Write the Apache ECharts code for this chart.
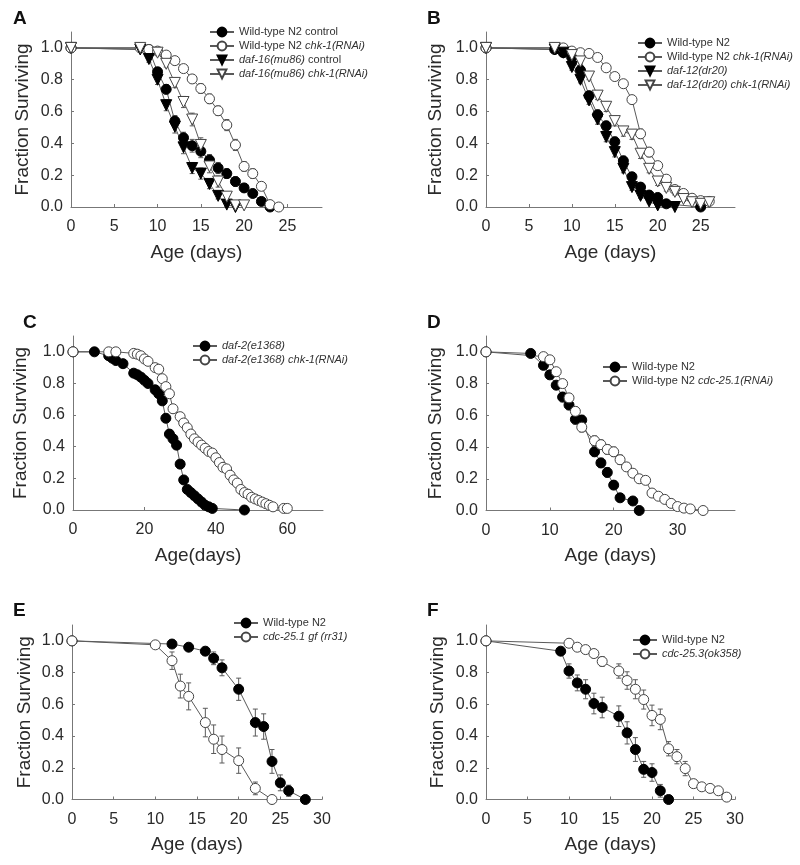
<!DOCTYPE html>
<html><head><meta charset="utf-8">
<script src="https://cdn.jsdelivr.net/npm/echarts@6/dist/echarts.min.js"></script>
<style>html,body{margin:0;padding:0;background:#fff}#c{width:800px;height:865px}</style>
</head><body><div id="c"></div>
<script>
// ---------- Panel A ----------
const aWtCtrlDays = [0,9,10,11,12,13,14,15,16,17,18,19,20,21,22,23];
const aWtCtrlSurv = [1.0,0.99,0.85,0.74,0.54,0.435,0.385,0.35,0.295,0.245,0.21,0.16,0.12,0.085,0.035,0.0];
const aWtCtrlErr  = [0,0.01,0.025,0.03,0.035,0.035,0.04,0.04,0.035,0.035,0.03,0.03,0.025,0.02,0.015,0];
const aWtChkDays = [0,8,9,10,11,12,13,14,15,16,17,18,19,20,21,22,23,24];
const aWtChkSurv = [1.0,1.0,0.99,0.98,0.955,0.92,0.87,0.805,0.745,0.68,0.605,0.515,0.39,0.255,0.21,0.13,0.015,0.0];
const aWtChkErr  = [0,0,0.005,0.01,0.015,0.02,0.02,0.025,0.03,0.03,0.03,0.035,0.035,0.03,0.03,0.025,0.01,0];
const aDafCtrlDays = [0,8,9,10,11,12,13,14,15,16,17,18,19];
const aDafCtrlSurv = [1.0,0.99,0.93,0.80,0.64,0.505,0.375,0.245,0.21,0.145,0.07,0.015,0.0];
const aDafCtrlErr  = [0,0.01,0.02,0.03,0.035,0.04,0.04,0.035,0.035,0.03,0.02,0.01,0];
const aDafChkDays = [0,8,10,11,12,13,14,15,16,17,18,19,20];
const aDafChkSurv = [1.0,1.0,0.97,0.90,0.78,0.66,0.55,0.39,0.255,0.16,0.065,0.01,0.01];
const aDafChkErr  = [0,0,0.01,0.02,0.03,0.035,0.04,0.045,0.04,0.035,0.025,0.01,0.01];
// ---------- Panel B ----------
const bWtDays = [0,8,9,10,11,12,13,14,15,16,17,18,19,20,21,25];
const bWtSurv = [1.0,0.99,0.97,0.94,0.86,0.70,0.58,0.51,0.41,0.29,0.19,0.125,0.075,0.06,0.02,0.0];
const bWtErr  = [0,0.005,0.01,0.015,0.02,0.025,0.03,0.03,0.03,0.03,0.025,0.02,0.015,0.015,0.01,0];
const bWtChkDays = [0,9,10,11,12,13,14,15,16,17,18,19,20,21,22,23,24,25,26];
const bWtChkSurv = [1.0,1.0,0.98,0.97,0.965,0.94,0.875,0.82,0.775,0.675,0.46,0.345,0.26,0.175,0.11,0.085,0.055,0.04,0.035];
const bWtChkErr  = [0,0,0.005,0.01,0.01,0.015,0.02,0.02,0.025,0.025,0.03,0.03,0.025,0.025,0.02,0.015,0.01,0.01,0.01];
const bDafDays = [0,8,9,10,11,12,13,14,15,16,17,18,19,20,22];
const bDafSurv = [1.0,0.99,0.97,0.88,0.80,0.67,0.55,0.44,0.345,0.24,0.125,0.07,0.035,0.01,0.0];
const bDafErr  = [0,0.005,0.01,0.02,0.02,0.025,0.03,0.03,0.03,0.025,0.02,0.015,0.01,0.005,0];
const bDafChkDays = [0,8,10,11,12,13,14,15,16,17,18,19,20,21,22,23,24,25,26];
const bDafChkSurv = [1.0,1.0,0.955,0.915,0.82,0.70,0.63,0.54,0.475,0.455,0.335,0.24,0.16,0.12,0.095,0.05,0.03,0.02,0.03];
const bDafChkErr  = [0,0,0.01,0.015,0.02,0.025,0.03,0.03,0.03,0.03,0.03,0.025,0.025,0.02,0.02,0.015,0.01,0.01,0.01];
// ---------- Panel C ----------
const cDafDays = [0,6,10,11,12,14,17,18,19,20,21,23,24,25,26,27,28,29,30,31,32,33,34,35,36,37,38,39,48];
const cDafSurv = [1.0,1.0,0.975,0.96,0.945,0.925,0.865,0.855,0.84,0.82,0.80,0.76,0.735,0.69,0.58,0.48,0.45,0.41,0.29,0.19,0.13,0.11,0.09,0.07,0.05,0.03,0.02,0.01,0.0];
const cDafErr  = [0,0,0.01,0.015,0.015,0.015,0.02,0.02,0.02,0.02,0.02,0.02,0.025,0.025,0.025,0.025,0.025,0.025,0.025,0.02,0.02,0.02,0.015,0.015,0.01,0.01,0.01,0.01,0];
const cDafChkDays = [0,10,12,17,18,19,20,21,23,24,25,26,27,28,30,31,32,33,34,35,36,37,38,39,40,41,42,43,44,45,46,47,48,49,50,51,52,53,54,55,56,59,60];
const cDafChkSurv = [1.0,1.0,1.0,0.99,0.985,0.975,0.955,0.94,0.90,0.89,0.83,0.78,0.735,0.64,0.59,0.55,0.52,0.48,0.45,0.43,0.41,0.39,0.37,0.36,0.33,0.30,0.27,0.26,0.22,0.19,0.17,0.13,0.11,0.10,0.08,0.07,0.06,0.05,0.04,0.03,0.02,0.01,0.01];
const cDafChkErr  = [0,0,0,0.005,0.01,0.01,0.015,0.015,0.02,0.02,0.02,0.025,0.025,0.025,0.025,0.025,0.025,0.025,0.025,0.025,0.025,0.025,0.025,0.025,0.025,0.025,0.025,0.02,0.02,0.02,0.02,0.02,0.015,0.015,0.015,0.015,0.01,0.01,0.01,0.01,0.01,0,0];
// ---------- Panel D ----------
const dWtDays = [0,7,9,10,11,12,13,14,15,17,18,19,20,21,23,24];
const dWtSurv = [1.0,0.99,0.915,0.855,0.79,0.715,0.665,0.575,0.57,0.37,0.30,0.24,0.16,0.08,0.06,0.0];
const dWtErr  = [0,0.01,0.02,0.025,0.025,0.03,0.03,0.03,0.03,0.03,0.03,0.03,0.025,0.02,0.02,0];
const dCdcDays = [0,9,10,11,12,13,14,15,17,18,19,20,21,22,23,24,25,26,27,28,29,30,31,32,34];
const dCdcSurv = [1.0,0.97,0.95,0.875,0.80,0.71,0.625,0.525,0.44,0.415,0.385,0.37,0.32,0.275,0.235,0.20,0.19,0.11,0.09,0.07,0.045,0.025,0.015,0.01,0.0];
const dCdcErr  = [0,0.015,0.015,0.02,0.025,0.025,0.03,0.03,0.03,0.03,0.03,0.03,0.03,0.025,0.025,0.025,0.025,0.02,0.02,0.015,0.015,0.01,0.01,0.005,0];
// ---------- Panel E ----------
const eWtDays = [0,12,14,16,17,18,20,22,23,24,25,26,28];
const eWtSurv = [1.0,0.98,0.96,0.935,0.89,0.83,0.695,0.485,0.46,0.24,0.105,0.055,0.0];
const eWtErr  = [0,0.01,0.015,0.025,0.04,0.05,0.07,0.085,0.08,0.075,0.05,0.035,0];
const eGfDays = [0,10,12,13,14,16,17,18,20,22,24];
const eGfSurv = [1.0,0.975,0.875,0.715,0.65,0.485,0.38,0.315,0.245,0.07,0.0];
const eGfErr  = [0,0.01,0.055,0.075,0.085,0.09,0.09,0.085,0.08,0.04,0];
// ---------- Panel F ----------
const fWtDays = [0,9,10,11,12,13,14,16,17,18,19,20,21,22];
const fWtSurv = [1.0,0.935,0.81,0.735,0.695,0.605,0.58,0.525,0.42,0.315,0.19,0.17,0.055,0.0];
const fWtErr  = [0,0.02,0.045,0.05,0.06,0.065,0.065,0.065,0.07,0.075,0.05,0.055,0.04,0];
const fOkDays = [0,10,11,12,13,14,16,17,18,19,20,21,22,23,24,25,26,27,28,29];
const fOkSurv = [1.0,0.985,0.96,0.945,0.92,0.87,0.81,0.75,0.695,0.63,0.53,0.505,0.32,0.27,0.195,0.10,0.08,0.07,0.055,0.015];
const fOkErr  = [0,0.01,0.015,0.02,0.025,0.03,0.045,0.055,0.06,0.06,0.065,0.065,0.045,0.045,0.045,0.025,0.02,0.015,0.015,0.01];

// ---------- tick labels ----------
const yTicks = [0,0.2,0.4,0.6,0.8,1.0];
const xTicksAB = [0,5,10,15,20,25];
const xTicksC = [0,20,40,60];
const xTicksD = [0,10,20,30];
const xTicksEF = [0,5,10,15,20,25,30];
const panelLetters = ['A','B','C','D','E','F'];
const xTitles = ['Age (days)','Age (days)','Age(days)','Age (days)','Age (days)','Age (days)'];
const yTitle = 'Fraction Surviving';

const FONT = 'Liberation Sans, Arial, Helvetica, sans-serif';
const TXT = '#2a2a2a';
const LINE = '#5a5a5a';

// layout (pixels)
const grids = [
  {left:71, top:32, width:251, height:175},
  {left:486, top:32, width:249, height:175},
  {left:73, top:336, width:250, height:174},
  {left:486, top:336, width:249, height:174.5},
  {left:72, top:625, width:250, height:174.5},
  {left:486, top:625, width:249, height:174.5}
];
const xMax = [29,29,70,39,30,30];
const xTickSets = [xTicksAB,xTicksAB,xTicksC,xTicksD,xTicksEF,xTicksEF];
const yNameGaps = [39,41,43,41,38,39];
const letterPos = [[13,9],[427,9],[23,313],[427,313],[13,601],[427,601]];
const legendPos = [[209,26],[637,37],[192,340],[602,361],[233,617],[632,634]];

const seriesDefs = [
  // panel, key, label, days, surv, err, marker, filled
  [0,'a1','Wild-type N2 control',aWtCtrlDays,aWtCtrlSurv,aWtCtrlErr,'circle',true],
  [0,'a2','Wild-type N2 {i|chk-1(RNAi)}',aWtChkDays,aWtChkSurv,aWtChkErr,'circle',false],
  [0,'a3','{i|daf-16(mu86)} control',aDafCtrlDays,aDafCtrlSurv,aDafCtrlErr,'triangle',true],
  [0,'a4','{i|daf-16(mu86) chk-1(RNAi)}',aDafChkDays,aDafChkSurv,aDafChkErr,'triangle',false],
  [1,'b1','Wild-type N2',bWtDays,bWtSurv,bWtErr,'circle',true],
  [1,'b2','Wild-type N2 {i|chk-1(RNAi)}',bWtChkDays,bWtChkSurv,bWtChkErr,'circle',false],
  [1,'b3','{i|daf-12(dr20)}',bDafDays,bDafSurv,bDafErr,'triangle',true],
  [1,'b4','{i|daf-12(dr20) chk-1(RNAi)}',bDafChkDays,bDafChkSurv,bDafChkErr,'triangle',false],
  [2,'c1','{i|daf-2(e1368)}',cDafDays,cDafSurv,cDafErr,'circle',true],
  [2,'c2','{i|daf-2(e1368) chk-1(RNAi)}',cDafChkDays,cDafChkSurv,cDafChkErr,'circle',false],
  [3,'d1','Wild-type N2',dWtDays,dWtSurv,dWtErr,'circle',true],
  [3,'d2','Wild-type N2 {i|cdc-25.1(RNAi)}',dCdcDays,dCdcSurv,dCdcErr,'circle',false],
  [4,'e1','Wild-type N2',eWtDays,eWtSurv,eWtErr,'circle',true],
  [4,'e2','{i|cdc-25.1 gf (rr31)}',eGfDays,eGfSurv,eGfErr,'circle',false],
  [5,'f1','Wild-type N2',fWtDays,fWtSurv,fWtErr,'circle',true],
  [5,'f2','{i|cdc-25.3(ok358)}',fOkDays,fOkSurv,fOkErr,'circle',false]
];
const labelMap = {};
seriesDefs.forEach(s => { labelMap[s[1]] = s[2]; });

function errRender(params, api) {
  const x = api.value(0), y = api.value(1), e = api.value(2);
  if (!e) return null;
  const t = api.coord([x, y + e]), b = api.coord([x, y - e]);
  const hw = 2.5, st = {stroke: LINE, lineWidth: 1};
  return {type:'group', children:[
    {type:'line', shape:{x1:t[0], y1:t[1], x2:b[0], y2:b[1]}, style:st},
    {type:'line', shape:{x1:t[0]-hw, y1:t[1], x2:t[0]+hw, y2:t[1]}, style:st},
    {type:'line', shape:{x1:b[0]-hw, y1:b[1], x2:b[0]+hw, y2:b[1]}, style:st}
  ]};
}

const series = [];
seriesDefs.forEach(s => {
  const [p, key, , days, surv, err, mk, filled] = s;
  series.push({
    type:'custom', xAxisIndex:p, yAxisIndex:p, silent:true, z:1,
    renderItem: errRender,
    data: days.map((d,i) => [d, surv[i], err[i]])
  });
});
seriesDefs.forEach(s => {
  const [p, key, , days, surv, err, mk, filled] = s;
  series.push({
    name:key, type:'line', xAxisIndex:p, yAxisIndex:p, z:3,
    data: days.map((d,i) => [d, surv[i]]),
    symbol: mk, symbolSize: mk === 'triangle' ? 11 : 10,
    symbolRotate: mk === 'triangle' ? 180 : 0,
    showSymbol:true, animation:false,
    lineStyle:{color:LINE, width:1},
    itemStyle: filled ? {color:'#000', borderColor:'#000', borderWidth:1}
                      : {color:'#fff', borderColor:'#444', borderWidth:1},
    emphasis:{disabled:true}
  });
});

const xAxis = grids.map((g,i) => ({
  gridIndex:i, type:'value', min:0, max:xMax[i],
  name:xTitles[i], nameLocation:'middle', nameGap:36,
  nameTextStyle:{fontSize:19, color:TXT, fontFamily:FONT},
  axisLine:{lineStyle:{color:'#777', width:1}},
  axisTick:{inside:true, length:3, lineStyle:{color:'#777'}, customValues:xTickSets[i]},
  axisLabel:{fontSize:16, color:TXT, fontFamily:FONT, margin:12, customValues:xTickSets[i],
             formatter: v => (xTickSets[i].indexOf(v) >= 0 ? String(v) : '')},
  splitLine:{show:false}
}));
const yAxis = grids.map((g,i) => ({
  gridIndex:i, type:'value', min:0, max:1.1,
  name:yTitle, nameLocation:'middle', nameGap:yNameGaps[i], nameRotate:90,
  nameTextStyle:{fontSize:19, color:TXT, fontFamily:FONT},
  axisLine:{show:true, lineStyle:{color:'#777', width:1}},
  axisTick:{show:true, inside:true, length:3, lineStyle:{color:'#777'}, customValues:yTicks},
  axisLabel:{fontSize:16, color:TXT, fontFamily:FONT, margin:8, customValues:yTicks,
             formatter: v => (v > 1.05 ? '' : v.toFixed(1))},
  splitLine:{show:false}
}));

const legend = [0,1,2,3,4,5].map(p => ({
  orient:'vertical', left:legendPos[p][0], top:legendPos[p][1], padding:0,
  itemWidth:24, itemHeight:11, itemGap:2, selectedMode:false,
  data: seriesDefs.filter(s => s[0] === p).map(s => s[1]),
  formatter: name => labelMap[name],
  textStyle:{fontSize:11, color:'#333', fontFamily:FONT, lineHeight:12,
             rich:{i:{fontSize:11, color:'#333', fontStyle:'italic', fontFamily:FONT, lineHeight:12}}}
}));

const title = panelLetters.map((L,i) => ({
  text:L, left:letterPos[i][0], top:letterPos[i][1], padding:0,
  textStyle:{fontSize:19, fontWeight:'bold', color:'#111', fontFamily:FONT}
}));

const chart = echarts.init(document.getElementById('c'), null, {renderer:'canvas'});
chart.setOption({
  animation:false, backgroundColor:'#fff',
  title, grid: grids, xAxis, yAxis, legend, series
});
</script></body></html>
